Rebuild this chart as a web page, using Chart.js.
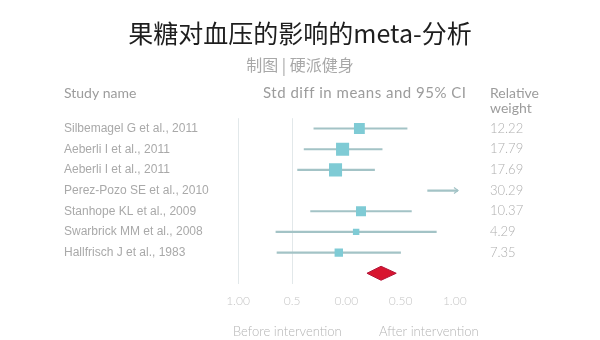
<!DOCTYPE html>
<html>
<head>
<meta charset="utf-8">
<script src="https://cdn.jsdelivr.net/npm/chart.js@4.4.1/dist/chart.umd.min.js"></script>
<style>
  html, body { margin: 0; padding: 0; background: #ffffff; }
  #wrap { width: 600px; height: 340px; }
</style>
</head>
<body>
<div id="wrap"><canvas id="forest" width="600" height="340"></canvas></div>
<script>
// Studies in the meta-analysis, top to bottom
const studies = [
  'Silbemagel G et al., 2011',
  'Aeberli I et al., 2011',
  'Aeberli I et al., 2011',
  'Perez-Pozo SE et al., 2010',
  'Stanhope KL et al., 2009',
  'Swarbrick MM et al., 2008',
  'Hallfrisch J et al., 1983'
];
// Relative weight (%) of each study
const weights = [12.22, 17.79, 17.69, 30.29, 10.37, 4.29, 7.35];
// Standardised mean difference and its 95% CI
const effect = [0.12, -0.035, -0.10, 1.30, 0.135, 0.09, -0.07];
const ciLow  = [-0.30, -0.39, -0.45, 0.75, -0.33, -0.65, -0.64];
const ciHigh = [0.56, 0.33, 0.26, 1.85, 0.60, 0.83, 0.50];
// Pooled estimate: [lower, point, upper]
const pooled = [0.19, 0.32, 0.46];
// Axis ticks
const tickValues = [-1, -0.5, 0, 0.5, 1];
const tickLabels = ['1.00', '0.5', '0.00', '0.50', '1.00'];

const rows = studies.concat(['']);
const weightLabels = weights.map(w => w.toFixed(2)).concat(['']);

const LINE = '#a3c3c6';
const SQUARE = '#7fcbd5';
const THIN = 'Lato, "Open Sans", sans-serif';

const extras = {
  id: 'forestExtras',
  afterDatasetsDraw(chart) {
    const { ctx, scales: { x, y } } = chart;
    ctx.save();
    // arrow heads for intervals running past the axis
    ciHigh.forEach((hi, i) => {
      if (hi > x.max) {
        const py = y.getPixelForValue(i);
        const px = x.getPixelForValue(x.max);
        ctx.strokeStyle = LINE;
        ctx.lineWidth = 1.2;
        ctx.beginPath();
        ctx.moveTo(px - 4, py - 3);
        ctx.lineTo(px, py);
        ctx.lineTo(px - 4, py + 3);
        ctx.stroke();
      }
    });
    // pooled diamond
    const dy = y.getPixelForValue(studies.length);
    const xl = x.getPixelForValue(pooled[0]);
    const xm = x.getPixelForValue(pooled[1]);
    const xr = x.getPixelForValue(pooled[2]);
    ctx.beginPath();
    ctx.moveTo(xl, dy);
    ctx.lineTo(xm, dy - 7);
    ctx.lineTo(xr, dy);
    ctx.lineTo(xm, dy + 7);
    ctx.closePath();
    ctx.fillStyle = '#d8152f';
    ctx.fill();
    ctx.strokeStyle = '#b3163a';
    ctx.lineWidth = 1;
    ctx.stroke();
    ctx.restore();
  },
  afterDraw(chart) {
    const { ctx } = chart;
    ctx.save();
    ctx.textBaseline = 'middle';
    ctx.fillStyle = '#9c9c9c';
    ctx.font = '14px ' + THIN;
    ctx.textAlign = 'left';
    ctx.fillText('Study name', 64, 93);
    ctx.fillText('Relative', 490, 93);
    ctx.fillText('weight', 490, 108);
    ctx.font = '15px ' + THIN;
    ctx.letterSpacing = '0.5px';
    ctx.fillText('Std diff in means and 95% CI', 263, 93);
    ctx.letterSpacing = '0px';
    ctx.fillStyle = '#b4b4b4';
    ctx.font = '300 13px ' + THIN;
    ctx.fillText('Before intervention', 233, 332);
    ctx.fillText('After intervention', 379, 332);
    ctx.restore();
  }
};

new Chart(document.getElementById('forest'), {
  type: 'bar',
  data: {
    labels: rows,
    datasets: [
      {
        type: 'bar',
        data: ciLow.map((lo, i) => [lo, ciHigh[i]]),
        backgroundColor: LINE,
        barThickness: 1.5,
        xAxisID: 'x',
        yAxisID: 'y',
        order: 2
      },
      {
        type: 'scatter',
        data: effect.map((e, i) => ({ x: e, y: i })),
        pointStyle: 'rect',
        pointRadius: weights.map(w => 3.1 * Math.sqrt(w) / Math.SQRT2),
        pointHoverRadius: weights.map(w => 3.1 * Math.sqrt(w) / Math.SQRT2),
        backgroundColor: SQUARE,
        borderColor: SQUARE,
        borderWidth: 0,
        xAxisID: 'x',
        yAxisID: 'y',
        order: 1
      }
    ]
  },
  options: {
    indexAxis: 'y',
    responsive: false,
    animation: false,
    layout: { padding: { left: 64, right: 64, top: 0, bottom: 22 } },
    plugins: {
      legend: { display: false },
      tooltip: { enabled: false },
      title: {
        display: true,
        text: '果糖对血压的影响的meta-分析',
        color: '#1e1e1e',
        font: { family: '"Noto Sans CJK SC"', size: 25, weight: 'normal' },
        padding: { top: 18, bottom: 7 }
      },
      subtitle: {
        display: true,
        text: '制图 | 硬派健身',
        color: '#a8a8a8',
        font: { family: '"Noto Sans CJK SC"', size: 16, weight: 'normal' },
        padding: { top: 0, bottom: 44 }
      }
    },
    scales: {
      x: {
        type: 'linear',
        min: -1,
        max: 1.03,
        afterBuildTicks: s => { s.ticks = tickValues.map(v => ({ value: v })); },
        ticks: {
          callback: (v, i) => tickLabels[i],
          color: '#c6c6c6',
          font: { family: THIN, size: 12, weight: 300 },
          padding: 10,
          maxRotation: 0,
          autoSkip: false
        },
        grid: {
          color: c => (c.tick && c.tick.value <= -0.5) ? '#e2e8ea' : 'rgba(0,0,0,0)',
          drawTicks: false
        },
        border: { display: false }
      },
      y: {
        type: 'category',
        position: 'left',
        offset: true,
        grid: { display: false, drawTicks: false },
        border: { display: false },
        ticks: {
          crossAlign: 'far',
          color: '#a9a9a9',
          font: { family: '"Liberation Sans", Arial, sans-serif', size: 12 },
          padding: 0,
          autoSkip: false
        },
        afterFit: s => { s.width = 174; }
      },
      y2: {
        type: 'category',
        position: 'right',
        labels: weightLabels,
        offset: true,
        grid: { display: false, drawTicks: false },
        border: { display: false },
        ticks: {
          crossAlign: 'near',
          padding: 32,
          color: '#afafaf',
          font: { family: THIN, size: 13, weight: 300 },
          autoSkip: false
        },
        afterFit: s => { s.width = 78; }
      }
    }
  },
  plugins: [extras]
});
</script>
</body>
</html>
